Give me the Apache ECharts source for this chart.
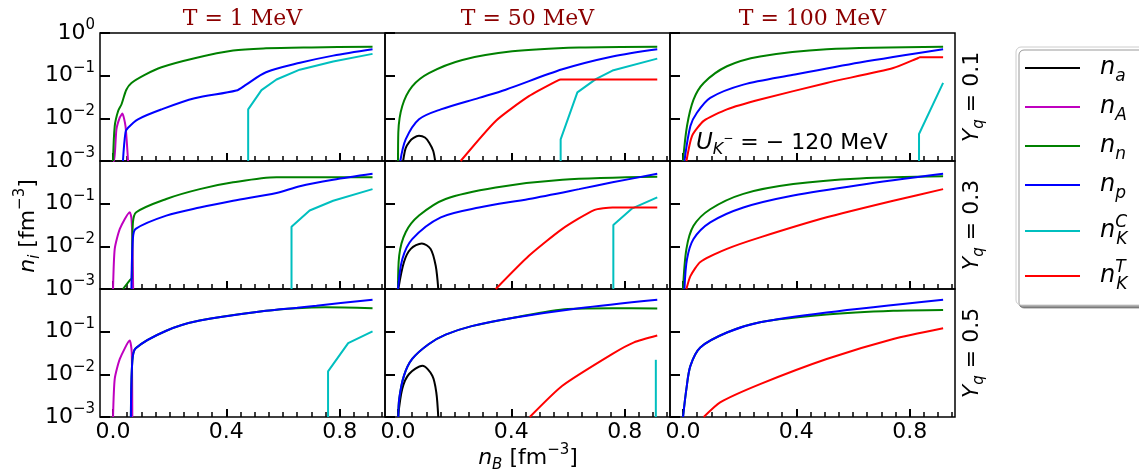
<!DOCTYPE html>
<html><head><meta charset="utf-8">
<script src="https://cdn.jsdelivr.net/npm/echarts@6/dist/echarts.min.js"></script>
<style>html,body{margin:0;padding:0;background:#fff}#c{width:1139px;height:474px;background:#fff}</style>
</head><body><div id="c"></div>
<script>
// ---------- axis / label data ----------
const xMajor = [0, 0.4, 0.8];
const xMinor = [0.05,0.1,0.15,0.2,0.25,0.3,0.35,0.45,0.5,0.55,0.6,0.65,0.7,0.75,0.85,0.9,0.95];
const temperatures = ['T = 1 MeV', 'T = 50 MeV', 'T = 100 MeV'];
const yqValues = ['0.1', '0.3', '0.5'];
const speciesKeys = ['na', 'nA', 'nn', 'np', 'nKC', 'nKT'];

// ---------- T = 1 MeV, Yq = 0.1 ----------
const T1_Y01_nA = [[0.0,0.001],[0.004,0.001],[0.012,0.0055],[0.024,0.0105],[0.033,0.0129],[0.044,0.0066],[0.053,0.001]];
const T1_Y01_nn = [[0.0,0.001],[0.006,0.0066],[0.018,0.0148],[0.03,0.0214],[0.047,0.0468],[0.065,0.0676],[0.112,0.105],[0.171,0.158],[0.288,0.257],[0.424,0.389],[0.54,0.437],[0.7,0.46],[0.916,0.479]];
const T1_Y01_np = [[0.035,0.001],[0.044,0.0047],[0.053,0.006],[0.088,0.0095],[0.171,0.0162],[0.288,0.0295],[0.435,0.0447],[0.47,0.0617],[0.54,0.12],[0.66,0.2],[0.777,0.295],[0.916,0.417]];
const T1_Y01_nKC = [[0.477,0.001],[0.477,0.0162],[0.524,0.0457],[0.577,0.0813],[0.659,0.138],[0.777,0.214],[0.916,0.324]];

// ---------- T = 50 MeV, Yq = 0.1 ----------
const T50_Y01_na = [[0.018,0.001],[0.027,0.002],[0.04,0.00282],[0.055,0.00347],[0.074,0.00389],[0.095,0.00355],[0.11,0.00269],[0.124,0.00174],[0.131,0.001]];
const T50_Y01_nn = [[0.0,0.001],[0.001,0.0047],[0.015,0.0195],[0.05,0.0562],[0.109,0.115],[0.227,0.234],[0.403,0.372],[0.639,0.457],[0.915,0.479]];
const T50_Y01_np = [[0.008,0.001],[0.027,0.0032],[0.074,0.0095],[0.151,0.0162],[0.286,0.0302],[0.38,0.0468],[0.58,0.141],[0.757,0.282],[0.915,0.417]];
const T50_Y01_nKC = [[0.574,0.001],[0.574,0.0032],[0.633,0.0407],[0.698,0.0832],[0.757,0.132],[0.915,0.251]];
const T50_Y01_nKT = [[0.221,0.001],[0.345,0.0087],[0.462,0.0331],[0.565,0.078],[0.574,0.0813],[0.915,0.0813]];

// ---------- T = 100 MeV, Yq = 0.1 ----------
const T100_Y01_nn = [[0.0,0.001],[0.014,0.0066],[0.037,0.0275],[0.073,0.0676],[0.155,0.166],[0.272,0.282],[0.507,0.417],[0.918,0.479]];
const T100_Y01_np = [[0.005,0.001],[0.026,0.0066],[0.049,0.0135],[0.096,0.0302],[0.213,0.0617],[0.389,0.105],[0.624,0.204],[0.918,0.417]];
const T100_Y01_nKC = [[0.833,0.001],[0.833,0.0043],[0.918,0.0676]];
const T100_Y01_nKT = [[0.012,0.001],[0.032,0.0039],[0.073,0.0087],[0.155,0.0162],[0.272,0.0275],[0.507,0.0676],[0.742,0.151],[0.83,0.26],[0.836,0.269],[0.918,0.269]];

// ---------- T = 1 MeV, Yq = 0.3 ----------
const T1_Y03_nA = [[0.0,0.001],[0.006,0.0087],[0.024,0.0257],[0.059,0.0631],[0.065,0.045],[0.069,0.01],[0.071,0.001]];
const T1_Y03_nn = [[0.035,0.001],[0.059,0.0016],[0.066,0.0018],[0.07,0.035],[0.082,0.0631],[0.188,0.129],[0.306,0.219],[0.424,0.316],[0.577,0.417],[0.916,0.417]];
const T1_Y03_np = [[0.065,0.001],[0.07,0.015],[0.08,0.0257],[0.188,0.0525],[0.306,0.0813],[0.424,0.117],[0.577,0.178],[0.659,0.257],[0.777,0.363],[0.916,0.501]];
const T1_Y03_nKC = [[0.63,0.001],[0.63,0.0288],[0.694,0.0692],[0.777,0.117],[0.916,0.219]];

// ---------- T = 50 MeV, Yq = 0.3 ----------
const T50_Y03_na = [[0.001,0.001],[0.021,0.0043],[0.045,0.0087],[0.084,0.0117],[0.115,0.0087],[0.133,0.0035],[0.142,0.001]];
const T50_Y03_nn = [[0.0,0.001],[0.004,0.006],[0.027,0.0214],[0.074,0.0525],[0.168,0.129],[0.345,0.24],[0.58,0.363],[0.915,0.427]];
const T50_Y03_np = [[0.0,0.001],[0.015,0.005],[0.05,0.0148],[0.151,0.0479],[0.286,0.0813],[0.462,0.129],[0.639,0.219],[0.757,0.316],[0.915,0.501]];
const T50_Y03_nKC = [[0.76,0.001],[0.76,0.0316],[0.827,0.0776],[0.915,0.141]];
const T50_Y03_nKT = [[0.345,0.001],[0.462,0.006],[0.58,0.0257],[0.692,0.0708],[0.757,0.0813],[0.915,0.0813]];

// ---------- T = 100 MeV, Yq = 0.3 ----------
const T100_Y03_nn = [[0.0,0.001],[0.012,0.0087],[0.037,0.0302],[0.096,0.0741],[0.213,0.17],[0.389,0.288],[0.624,0.389],[0.918,0.437]];
const T100_Y03_np = [[0.005,0.001],[0.014,0.005],[0.037,0.0148],[0.096,0.0363],[0.213,0.0813],[0.389,0.155],[0.624,0.275],[0.918,0.501]];
const T100_Y03_nKT = [[0.012,0.001],[0.026,0.002],[0.061,0.0043],[0.155,0.0087],[0.272,0.0162],[0.507,0.0479],[0.742,0.117],[0.918,0.219]];

// ---------- T = 1 MeV, Yq = 0.5 ----------
const T1_Y05_nA = [[0.0,0.001],[0.006,0.0078],[0.024,0.0229],[0.059,0.0617],[0.066,0.0331],[0.068,0.001]];
const T1_Y05_nn = [[0.063,0.001],[0.068,0.02],[0.08,0.0407],[0.188,0.105],[0.306,0.182],[0.54,0.309],[0.65,0.355],[0.75,0.372],[0.916,0.355]];
const T1_Y05_np = [[0.063,0.001],[0.068,0.02],[0.08,0.0407],[0.188,0.105],[0.306,0.182],[0.54,0.309],[0.65,0.365],[0.718,0.407],[0.916,0.562]];
const T1_Y05_nKC = [[0.759,0.001],[0.759,0.0117],[0.83,0.0537],[0.916,0.102]];

// ---------- T = 50 MeV, Yq = 0.5 ----------
const T50_Y05_na = [[0.0,0.001],[0.015,0.0046],[0.039,0.0102],[0.086,0.0158],[0.121,0.0093],[0.135,0.0038],[0.142,0.001]];
const T50_Y05_nn = [[0.001,0.001],[0.004,0.0026],[0.021,0.0093],[0.05,0.0229],[0.109,0.0513],[0.168,0.085],[0.26,0.135],[0.403,0.21],[0.6,0.34],[0.757,0.355],[0.915,0.35]];
const T50_Y05_np = [[0.001,0.001],[0.004,0.0026],[0.021,0.0093],[0.05,0.0229],[0.109,0.0513],[0.168,0.085],[0.26,0.135],[0.403,0.21],[0.639,0.355],[0.915,0.562]];
const T50_Y05_nKC = [[0.91,0.001],[0.91,0.0219]];
const T50_Y05_nKT = [[0.465,0.001],[0.58,0.0054],[0.757,0.0302],[0.833,0.0562],[0.915,0.0813]];

// ---------- T = 100 MeV, Yq = 0.5 ----------
const T100_Y05_nn = [[0.0,0.001],[0.012,0.0046],[0.026,0.0158],[0.061,0.0427],[0.155,0.0955],[0.272,0.166],[0.507,0.251],[0.742,0.309],[0.918,0.324]];
const T100_Y05_np = [[0.0,0.001],[0.012,0.0046],[0.026,0.0158],[0.061,0.0427],[0.155,0.0955],[0.272,0.166],[0.507,0.282],[0.918,0.562]];
const T100_Y05_nKT = [[0.073,0.001],[0.131,0.0022],[0.272,0.0059],[0.507,0.0229],[0.742,0.0676],[0.918,0.12]];

// ---------- panel table (rows: Yq, cols: T) ----------
const panels = [
  [{nA:T1_Y01_nA, nn:T1_Y01_nn, np:T1_Y01_np, nKC:T1_Y01_nKC},
   {na:T50_Y01_na, nn:T50_Y01_nn, np:T50_Y01_np, nKC:T50_Y01_nKC, nKT:T50_Y01_nKT},
   {nn:T100_Y01_nn, np:T100_Y01_np, nKC:T100_Y01_nKC, nKT:T100_Y01_nKT}],
  [{nA:T1_Y03_nA, nn:T1_Y03_nn, np:T1_Y03_np, nKC:T1_Y03_nKC},
   {na:T50_Y03_na, nn:T50_Y03_nn, np:T50_Y03_np, nKC:T50_Y03_nKC, nKT:T50_Y03_nKT},
   {nn:T100_Y03_nn, np:T100_Y03_np, nKT:T100_Y03_nKT}],
  [{nA:T1_Y05_nA, nn:T1_Y05_nn, np:T1_Y05_np, nKC:T1_Y05_nKC},
   {na:T50_Y05_na, nn:T50_Y05_nn, np:T50_Y05_np, nKC:T50_Y05_nKC, nKT:T50_Y05_nKT},
   {nn:T100_Y05_nn, np:T100_Y05_np, nKT:T100_Y05_nKT}]
];

// ---------- styles ----------
const colors = {na:'#000000', nA:'#bf00bf', nn:'#008000', np:'#0000ff', nKC:'#00bfbf', nKT:'#ff0000'};
const smoothing = {na:0.3, nA:0.2, nn:0.3, np:0.3, nKC:0, nKT:0.2};
const FONT = 'DejaVu Sans';
const colLeft = [100, 385, 670], rowTop = [33, 161, 289], W = 285, H = 128;
const X_MIN = -0.046, X_MAX = 0.96;

const chart = echarts.init(document.getElementById('c'), null, {renderer: 'canvas'});
const grids = [], xAxes = [], yAxes = [], series = [];

for (let r = 0; r < 3; r++) {
  for (let c = 0; c < 3; c++) {
    const g = r * 3 + c;
    grids.push({left: colLeft[c], top: rowTop[r], width: W, height: H, show: true,
      borderColor: '#000', borderWidth: 1.5, backgroundColor: 'transparent',
      containLabel: false, outerBoundsMode: 'none'});
    const xi = xAxes.length;
    xAxes.push({type: 'value', gridIndex: g, min: X_MIN, max: X_MAX, position: 'bottom',
      axisLine: {show: false, onZero: false}, splitLine: {show: false},
      axisTick: {show: true, inside: true, length: 8, customValues: xMajor, lineStyle: {color: '#000', width: 2}},
      axisLabel: {show: true, customValues: xMajor, formatter: v => (r === 2 ? v.toFixed(1) : ''), margin: 4,
        fontSize: 22, fontFamily: FONT, color: '#000'}});
    xAxes.push({type: 'value', gridIndex: g, min: X_MIN, max: X_MAX, position: 'bottom', offset: 0,
      axisLine: {show: false, onZero: false}, splitLine: {show: false},
      axisTick: {show: true, inside: true, length: 5, customValues: xMinor, lineStyle: {color: '#000', width: 1.5}},
      axisLabel: {show: false}});
    yAxes.push({type: 'log', logBase: 10, gridIndex: g, min: 0.001, max: 1, position: 'left',
      axisLine: {show: false, onZero: false}, splitLine: {show: false},
      axisTick: {show: true, inside: true, length: 10, lineStyle: {color: '#000', width: 2}},
      axisLabel: {show: true, margin: 5,
        formatter: v => {
          const e = Math.round(Math.log10(v));
          if (c > 0 || (r > 0 && e === 0)) return '';
          return '{b|10}{s|' + (e === 0 ? '0' : '\u2212' + (-e)) + '}';
        },
        rich: {
          b: {fontSize: 22, fontFamily: FONT, color: '#000', lineHeight: 30, verticalAlign: 'middle'},
          s: {fontSize: 15, fontFamily: FONT, color: '#000', lineHeight: 15, verticalAlign: 'top'}
        }}});
    speciesKeys.forEach(k => {
      const d = panels[r][c][k];
      if (!d) return;
      series.push({type: 'line', xAxisIndex: xi, yAxisIndex: g, data: d,
        symbol: 'none', smooth: smoothing[k],
        lineStyle: {color: colors[k], width: 2}, itemStyle: {color: colors[k]}});
    });
  }
}

// ---------- texts ----------
const graphics = [];
temperatures.forEach((t, c) => {
  graphics.push({type: 'text', x: colLeft[c] + W / 2, y: 19,
    style: {text: t, fill: '#8b0000', fontSize: 22, fontFamily: 'DejaVu Serif', align: 'center', verticalAlign: 'middle'}});
});
yqValues.forEach((q, r) => {
  graphics.push({type: 'text', x: 972, y: rowTop[r] + H / 2, rotation: Math.PI / 2,
    style: {text: '{i|Y}{sub|q}{t| = ' + q + '}', align: 'center', verticalAlign: 'middle',
      rich: {
        i: {fontSize: 22, fontFamily: FONT, fontStyle: 'italic', fill: '#000', lineHeight: 30, verticalAlign: 'middle'},
        sub: {fontSize: 15, fontFamily: FONT, fontStyle: 'italic', fill: '#000', lineHeight: 15, verticalAlign: 'bottom'},
        t: {fontSize: 22, fontFamily: FONT, fill: '#000', lineHeight: 30, verticalAlign: 'middle'}
      }}});
});
const labelRich = {
  i: {fontSize: 22, fontFamily: FONT, fontStyle: 'italic', fill: '#000', lineHeight: 30, verticalAlign: 'middle'},
  sub: {fontSize: 15, fontFamily: FONT, fontStyle: 'italic', fill: '#000', lineHeight: 15, verticalAlign: 'bottom'},
  t: {fontSize: 22, fontFamily: FONT, fill: '#000', lineHeight: 30, verticalAlign: 'middle'},
  sup: {fontSize: 15, fontFamily: FONT, fill: '#000', lineHeight: 15, verticalAlign: 'top'}
};
graphics.push({type: 'text', x: 28, y: 226, rotation: Math.PI / 2,
  style: {text: '{i|n}{sub|i}{t| [fm}{sup|\u22123}{t|]}', align: 'center', verticalAlign: 'middle', rich: labelRich}});
graphics.push({type: 'text', x: 528, y: 458,
  style: {text: '{i|n}{sub|B}{t| [fm}{sup|\u22123}{t|]}', align: 'center', verticalAlign: 'middle', rich: labelRich}});
graphics.push({type: 'text', x: 696, y: 143,
  style: {text: '{i|U}{sub|K}{sup|\u2212}{t| = \u2212 120 MeV}', align: 'left', verticalAlign: 'middle',
    rich: {
      i: {fontSize: 23, fontFamily: FONT, fontStyle: 'italic', fill: '#000', lineHeight: 30, verticalAlign: 'middle'},
      sub: {fontSize: 16, fontFamily: FONT, fontStyle: 'italic', fill: '#000', lineHeight: 15, verticalAlign: 'bottom'},
      sup: {fontSize: 12, fontFamily: FONT, fill: '#000', lineHeight: 12, verticalAlign: 'middle', padding: [0, 0, 8, 0]},
      t: {fontSize: 22, fontFamily: FONT, fill: '#000', lineHeight: 30, verticalAlign: 'middle'}
    }}});

// ---------- legend (drawn as graphic group) ----------
const legendLabels = {
  na: '{n|n}{s|a}', nA: '{n|n}{s|A}', nn: '{n|n}{s|n}', np: '{n|n}{s|p}',
  nKC: '{n|n}{p|C}{k|K}', nKT: '{n|n}{p|T}{k|K}'
};
const legendRows = [68, 107, 146, 185, 231, 276];
const legendChildren = [{type: 'rect', shape: {x: 1016, y: 47, width: 150, height: 258, r: 5},
  style: {fill: '#fff', stroke: '#cccccc', lineWidth: 1, shadowColor: 'rgba(0,0,0,0.4)', shadowOffsetX: 3, shadowOffsetY: 3, shadowBlur: 0}}];
speciesKeys.forEach((k, i) => {
  legendChildren.push({type: 'line', shape: {x1: 1025, y1: legendRows[i], x2: 1080, y2: legendRows[i]},
    style: {stroke: colors[k], lineWidth: 2}});
  legendChildren.push({type: 'text', x: 1100, y: legendRows[i],
    style: {text: legendLabels[k], align: 'left', verticalAlign: 'middle',
      rich: {
        n: {fontSize: 24, fontFamily: FONT, fontStyle: 'italic', fill: '#000', lineHeight: 34, verticalAlign: 'middle'},
        s: {fontSize: 17, fontFamily: FONT, fontStyle: 'italic', fill: '#000', lineHeight: 19, verticalAlign: 'bottom'},
        p: {fontSize: 17, fontFamily: FONT, fontStyle: 'italic', fill: '#000', lineHeight: 17, verticalAlign: 'top', width: 1},
        k: {fontSize: 17, fontFamily: FONT, fontStyle: 'italic', fill: '#000', lineHeight: 19, verticalAlign: 'bottom'}
      }}});
});
graphics.push({type: 'group', children: legendChildren});

chart.setOption({
  animation: false,
  grid: grids,
  xAxis: xAxes,
  yAxis: yAxes,
  series: series,
  graphic: graphics
});
</script></body></html>
